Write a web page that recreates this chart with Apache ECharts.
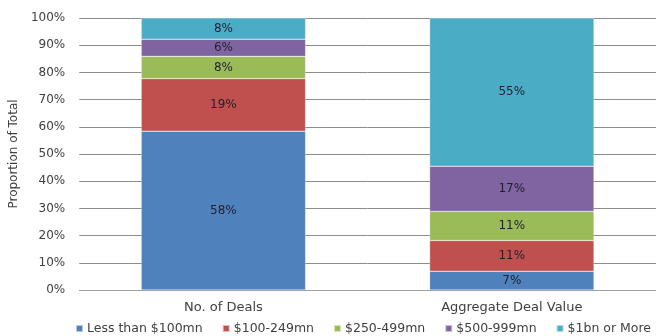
<!DOCTYPE html>
<html><head><meta charset="utf-8">
<script src="https://cdn.jsdelivr.net/npm/echarts@6/dist/echarts.min.js"></script>
<style>html,body{margin:0;padding:0;background:#fff}#c{width:656px;height:336px}</style>
</head><body><div id="c"></div>
<script>
const categories = ['No. of Deals', 'Aggregate Deal Value'];
const seriesNames = ['Less than $100mn', '$100-249mn', '$250-499mn', '$500-999mn', '$1bn or More'];
const lessThan100 = [58.4, 6.9];
const s100to249 = [19.3, 11.3];
const s250to499 = [8.2, 10.7];
const s500to999 = [6.3, 16.6];
const over1bn = [7.8, 54.5];
const yTicks = [0, 10, 20, 30, 40, 50, 60, 70, 80, 90, 100];
const colors = ['#4F81BD', '#C0504D', '#9BBB59', '#8064A2', '#4BACC6'];
const values = [lessThan100, s100to249, s250to499, s500to999, over1bn];
const font = '"DejaVu Sans", sans-serif';

const chart = echarts.init(document.getElementById('c'), null, {renderer: 'canvas'});
chart.setOption({
  animation: false,
  textStyle: {fontFamily: font},
  grid: {left: 77, right: -6, top: 18, bottom: 46, containLabel: false},
  legend: {
    top: 322, left: 75, width: 610, padding: 0,
    itemWidth: 7, itemHeight: 7, itemGap: 19,
    icon: 'rect',
    textStyle: {fontFamily: font, fontSize: 12.5, color: '#404040', padding: [0, 0, 0, -1]},
    data: seriesNames
  },
  xAxis: {
    type: 'category', data: categories,
    axisLine: {lineStyle: {color: '#a0a0a0', width: 1}},
    axisTick: {show: false},
    axisLabel: {fontFamily: font, fontSize: 13, color: '#404040', margin: 11}
  },
  yAxis: {
    type: 'value', min: yTicks[0], max: yTicks[yTicks.length - 1], interval: 10,
    name: 'Proportion of Total', nameLocation: 'middle', nameGap: 51, nameRotate: 90,
    nameTextStyle: {fontFamily: font, fontSize: 12, color: '#404040'},
    axisLine: {show: false}, axisTick: {show: false},
    axisLabel: {fontFamily: font, fontSize: 12, color: '#404040', margin: 14, formatter: v => v + '%'},
    splitLine: {lineStyle: {color: '#8c8c8c', width: 1}}
  },
  series: seriesNames.map((n, i) => ({
    name: n, type: 'bar', stack: 'total', data: values[i],
    barWidth: '57%',
    itemStyle: {color: colors[i], borderColor: 'rgba(255,255,255,0.6)', borderWidth: 0.5},
    label: {show: true, position: 'inside', fontFamily: font, fontSize: 12, color: '#1f1f2f',
      formatter: p => Math.round(p.value) + '%'}
  }))
});
</script></body></html>
